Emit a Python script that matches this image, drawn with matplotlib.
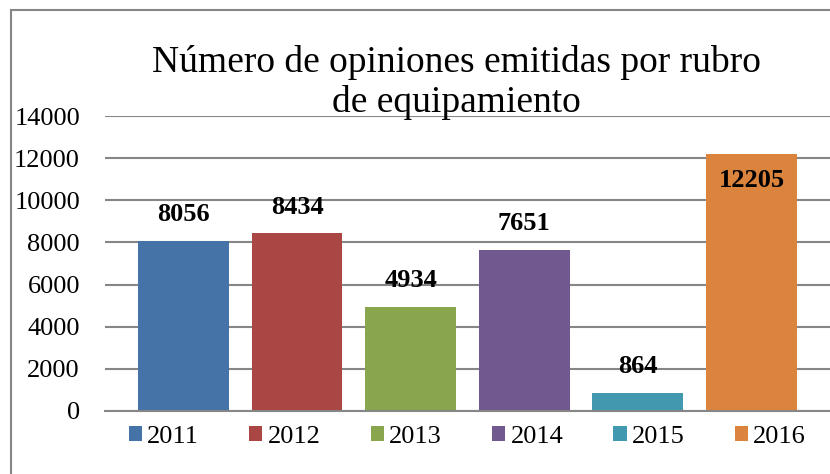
import matplotlib
matplotlib.use('Agg')
import matplotlib.pyplot as plt
from matplotlib.patches import Rectangle, Patch

plt.rcParams['font.family'] = ['Liberation Serif', 'DejaVu Serif']

years = ['2011', '2012', '2013', '2014', '2015', '2016']
opinions = [8056, 8434, 4934, 7651, 864, 12205]
colors = ['#4572A7', '#AA4643', '#89A54E', '#71588F', '#4198AF', '#DB843D']
yticks = [0, 2000, 4000, 6000, 8000, 10000, 12000, 14000]

fig = plt.figure(figsize=(8.3, 4.74), dpi=100)
ax = fig.add_axes([0.1265, 0.133, 0.8735, 0.622])

x = list(range(len(years)))
ax.bar(x, opinions, width=0.8, color=colors, zorder=2)

for xi, v in zip(x, opinions):
    if v > 11500:
        ax.text(xi, v - 1270, str(v), ha='center', va='center',
                fontsize=19, fontweight='bold', zorder=3)
    else:
        ax.text(xi, v + 1250, str(v), ha='center', va='center',
                fontsize=19, fontweight='bold', zorder=3)

ax.set_xlim(-0.69, 5.69)
ax.set_ylim(0, 14000)
ax.set_yticks(yticks)
ax.set_xticks([])
ax.grid(axis='y', color='#868686', linewidth=1.5, zorder=0)
for s in ['top', 'right', 'left']:
    ax.spines[s].set_visible(False)
ax.spines['bottom'].set_color('#868686')
ax.spines['bottom'].set_linewidth(1.5)
ax.tick_params(axis='y', length=0, pad=18, labelsize=19)

fig.text(0.55, 0.868, 'Número de opiniones emitidas por rubro', ha='center',
         va='center', fontsize=27)
fig.text(0.55, 0.784, 'de equipamiento', ha='center', va='center', fontsize=27)

handles = [Patch(facecolor=c) for c in colors]
fig.legend(handles, years, loc='center', bbox_to_anchor=(0.563, 0.078), ncol=6,
           frameon=False, fontsize=19, handlelength=0.5, handleheight=0.5,
           handletextpad=0.2, columnspacing=1.9)

fig.patches.append(Rectangle((11 / 830, -0.01), 1.0, 1 - 10 / 474 + 0.01,
                             transform=fig.transFigure, fill=False,
                             edgecolor='#868686', linewidth=1.5))

fig.savefig('out.png', dpi=100)
